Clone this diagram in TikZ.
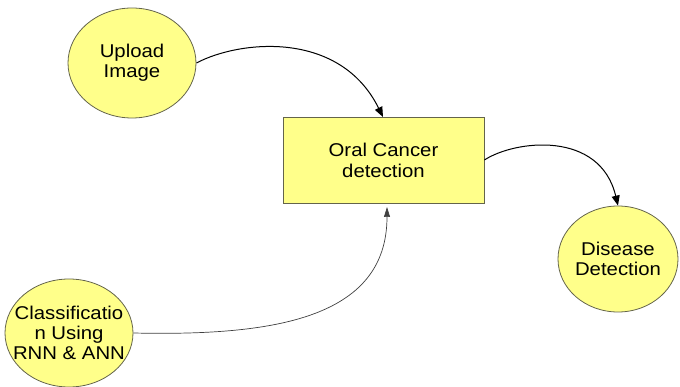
\documentclass[tikz,border=0pt]{standalone}
\usepackage{fontspec}
\setmainfont[FakeStretch=1.1]{Liberation Sans}
\usetikzlibrary{shapes.geometric,arrows.meta}
\definecolor{boxfill}{RGB}{255,255,138}
\definecolor{boxline}{RGB}{100,100,75}
\tikzset{
  ellnode/.style={ellipse, draw=boxline, fill=boxfill, line width=0.8pt, inner sep=0pt},
  elltext/.style={align=center, font=\fontsize{18.5}{20}\selectfont, inner sep=0pt},
  rectnode/.style={rectangle, draw=boxline, fill=boxfill, line width=0.8pt, inner sep=0pt, align=center,
    font=\fontsize{18.5}{21}\selectfont},
  flow/.style={line width=1pt, -{Triangle[length=10pt,width=8pt]}},
  thinflow/.style={line width=0.7pt, draw=black!75, -{Triangle[length=10pt,width=6pt]}}
}
\begin{document}
\begin{tikzpicture}[x=1pt,y=-1pt]
\useasboundingbox (0,0) rectangle (680,387);
\node[ellnode, minimum width=128pt, minimum height=110pt,
  label={[elltext]center:Upload\\Image}] (up) at (132,63) {};
\node[rectnode, minimum width=201pt, minimum height=86pt] (oc) at (383.5,160) {Oral Cancer\\detection};
\node[ellnode, minimum width=120pt, minimum height=106pt,
  label={[elltext]center:Disease\\Detection}] (dd) at (618,259) {};
\node[ellnode, minimum width=128pt, minimum height=108pt,
  label={[elltext]center:Classificatio\\n Using\\RNN \& ANN}] (cl) at (69,333) {};
\coordinate (oct) at (383,117);
\coordinate (ocb) at (387,207);
\draw[flow] (up.east) .. controls (240,40) and (340,30) .. (oct);
\draw[flow] (oc.east) .. controls (515,140) and (600,130) .. (dd.north);
\draw[thinflow] (cl.east) .. controls (270,336) and (387,320) .. (ocb);
\end{tikzpicture}
\end{document}
